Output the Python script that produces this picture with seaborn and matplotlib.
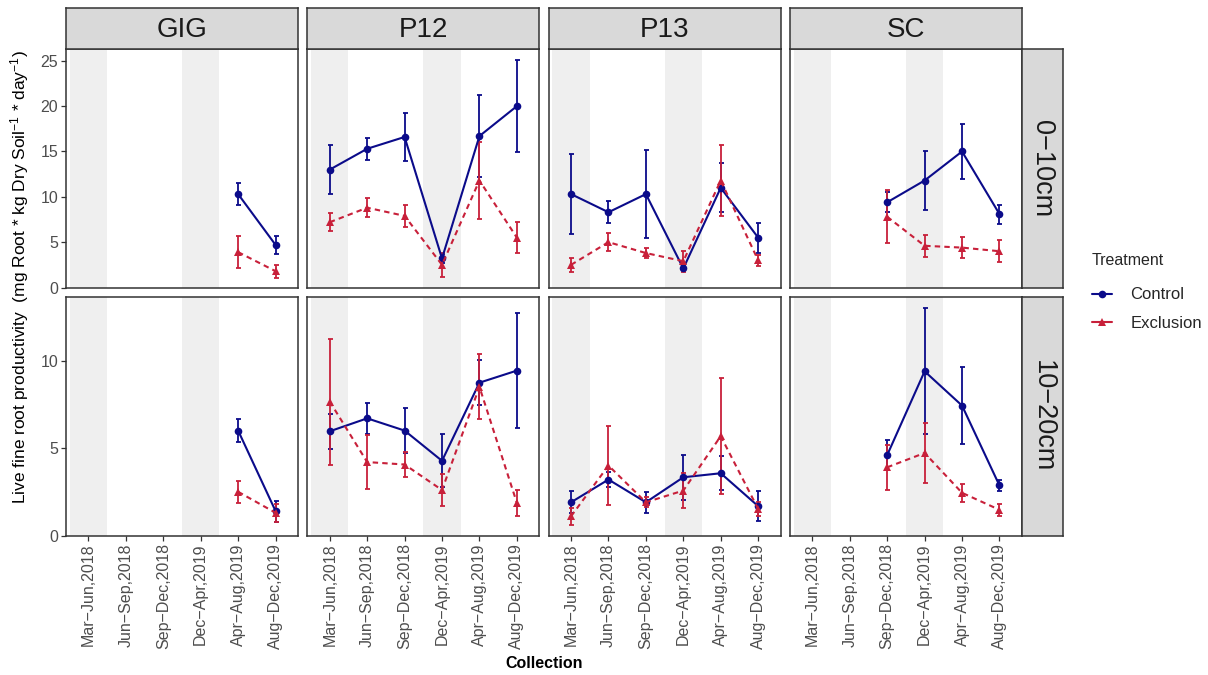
import numpy as np
import pandas as pd
import matplotlib
matplotlib.use("Agg")
import matplotlib.pyplot as plt
from matplotlib.lines import Line2D
import seaborn as sns

# ---- data -------------------------------------------------------------
collections = ["Mar−Jun,2018", "Jun−Sep,2018", "Sep−Dec,2018",
               "Dec−Apr,2019", "Apr−Aug,2019", "Aug−Dec,2019"]
sites = ["GIG", "P12", "P13", "SC"]
depths = ["0−10cm", "10−20cm"]
treatments = ["Control", "Exclusion"]
nan = np.nan

# 0-10 cm: mean and standard error per collection
gig_0_10_control = [nan, nan, nan, nan, 10.3, 4.7]
gig_0_10_control_se = [nan, nan, nan, nan, 1.2, 1.0]
gig_0_10_exclusion = [nan, nan, nan, nan, 3.9, 1.8]
gig_0_10_exclusion_se = [nan, nan, nan, nan, 1.8, 0.7]

p12_0_10_control = [13.0, 15.3, 16.6, 3.2, 16.7, 20.0]
p12_0_10_control_se = [2.7, 1.2, 2.6, 0.5, 4.5, 5.05]
p12_0_10_exclusion = [7.2, 8.8, 7.9, 2.5, 11.8, 5.5]
p12_0_10_exclusion_se = [1.0, 1.05, 1.2, 1.3, 4.2, 1.7]

p13_0_10_control = [10.3, 8.3, 10.3, 2.1, 11.0, 5.5]
p13_0_10_control_se = [4.4, 1.2, 4.85, 0.2, 2.7, 1.65]
p13_0_10_exclusion = [2.5, 5.0, 3.8, 2.9, 11.8, 3.0]
p13_0_10_exclusion_se = [0.8, 1.0, 0.6, 1.15, 3.95, 0.6]

sc_0_10_control = [nan, nan, 9.4, 11.8, 15.0, 8.1]
sc_0_10_control_se = [nan, nan, 1.1, 3.3, 3.0, 1.05]
sc_0_10_exclusion = [nan, nan, 7.8, 4.6, 4.4, 4.0]
sc_0_10_exclusion_se = [nan, nan, 2.9, 1.2, 1.15, 1.2]

# 10-20 cm: mean and standard error per collection
gig_10_20_control = [nan, nan, nan, nan, 6.0, 1.4]
gig_10_20_control_se = [nan, nan, nan, nan, 0.65, 0.6]
gig_10_20_exclusion = [nan, nan, nan, nan, 2.5, 1.3]
gig_10_20_exclusion_se = [nan, nan, nan, nan, 0.63, 0.5]

p12_10_20_control = [5.96, 6.7, 6.0, 4.27, 8.74, 9.43]
p12_10_20_control_se = [1.0, 0.9, 1.28, 1.52, 1.3, 3.3]
p12_10_20_exclusion = [7.66, 4.2, 4.06, 2.6, 8.5, 1.87]
p12_10_20_exclusion_se = [3.6, 1.55, 0.7, 0.92, 1.86, 0.74]

p13_10_20_control = [1.9, 3.2, 1.9, 3.33, 3.56, 1.68]
p13_10_20_control_se = [0.63, 0.43, 0.6, 1.28, 0.97, 0.86]
p13_10_20_exclusion = [1.1, 4.0, 1.9, 2.57, 5.68, 1.52]
p13_10_20_exclusion_se = [0.5, 2.28, 0.29, 1.02, 3.33, 0.38]

sc_10_20_control = [nan, nan, 4.6, 9.39, 7.43, 2.86]
sc_10_20_control_se = [nan, nan, 0.84, 3.6, 2.2, 0.33]
sc_10_20_exclusion = [nan, nan, 3.9, 4.72, 2.44, 1.47]
sc_10_20_exclusion_se = [nan, nan, 1.3, 1.7, 0.52, 0.36]

series = {
    ("GIG", "0−10cm"): (gig_0_10_control, gig_0_10_control_se, gig_0_10_exclusion, gig_0_10_exclusion_se),
    ("P12", "0−10cm"): (p12_0_10_control, p12_0_10_control_se, p12_0_10_exclusion, p12_0_10_exclusion_se),
    ("P13", "0−10cm"): (p13_0_10_control, p13_0_10_control_se, p13_0_10_exclusion, p13_0_10_exclusion_se),
    ("SC", "0−10cm"): (sc_0_10_control, sc_0_10_control_se, sc_0_10_exclusion, sc_0_10_exclusion_se),
    ("GIG", "10−20cm"): (gig_10_20_control, gig_10_20_control_se, gig_10_20_exclusion, gig_10_20_exclusion_se),
    ("P12", "10−20cm"): (p12_10_20_control, p12_10_20_control_se, p12_10_20_exclusion, p12_10_20_exclusion_se),
    ("P13", "10−20cm"): (p13_10_20_control, p13_10_20_control_se, p13_10_20_exclusion, p13_10_20_exclusion_se),
    ("SC", "10−20cm"): (sc_10_20_control, sc_10_20_control_se, sc_10_20_exclusion, sc_10_20_exclusion_se),
}

rows = []
for (site, depth), (cm, cse, em, ese) in series.items():
    for i, lab in enumerate(collections):
        rows.append(dict(Site=site, Depth=depth, Treatment="Control", x=i + 1,
                         Collection=lab, value=cm[i], se=cse[i]))
        rows.append(dict(Site=site, Depth=depth, Treatment="Exclusion", x=i + 1,
                         Collection=lab, value=em[i], se=ese[i]))
df = pd.DataFrame(rows)
df["lo"] = df["value"] - df["se"]
df["hi"] = df["value"] + df["se"]

# ---- style ------------------------------------------------------------
sns.set_theme(style="white")
plt.rcParams["font.family"] = ["Liberation Sans", "DejaVu Sans"]
plt.rcParams["mathtext.fontset"] = "custom"
plt.rcParams["mathtext.rm"] = "Liberation Sans"
plt.rcParams["mathtext.it"] = "Liberation Sans:italic"
plt.rcParams["mathtext.bf"] = "Liberation Sans:bold"

palette = {"Control": "#0B0B8A", "Exclusion": "#C8203A"}
markers = {"Control": "o", "Exclusion": "^"}
dashes = {"Control": "", "Exclusion": (2.6, 2.0)}
shade_cols = [1, 4]
frame_col = "#333333"
strip_fill = "#D9D9D9"

W, H = 1208, 675
fig = plt.figure(figsize=(W / 100, H / 100), dpi=100)


def fig_rect(x0, y0, x1, y1):
    """Pixel box (top-left origin) to figure-fraction rect."""
    return [x0 / W, 1 - y1 / H, (x1 - x0) / W, (y1 - y0) / H]


col_left = 66
col_w = 232
col_gap = 9.3
row_tops = [49, 297]
row_h = 238.5
strip_h = 41

ylims = {}
for depth in depths:
    sub = df[df["Depth"] == depth]
    ylims[depth] = (0, np.nanmax(sub["hi"]) * 1.05)

for r, depth in enumerate(depths):
    for c, site in enumerate(sites):
        x0 = col_left + c * (col_w + col_gap)
        y0 = row_tops[r]
        ax = fig.add_axes(fig_rect(x0, y0, x0 + col_w, y0 + row_h))
        sub = df[(df["Site"] == site) & (df["Depth"] == depth)]

        for xc in shade_cols:
            ax.axvspan(xc - 0.5, xc + 0.5, color="#EFEFEF", lw=0, zorder=0)

        for tr in treatments:
            t = sub[sub["Treatment"] == tr]
            ax.errorbar(t["x"], t["value"], yerr=t["se"], fmt="none",
                        ecolor=palette[tr], elinewidth=1.3, capsize=1.8,
                        capthick=1.3, zorder=2)

        sns.lineplot(data=sub.dropna(subset=["value"]), x="x", y="value",
                     hue="Treatment", style="Treatment", palette=palette,
                     markers=markers, dashes=dashes, markersize=5.5,
                     markeredgewidth=0, linewidth=1.5, legend=False,
                     ax=ax, zorder=3, errorbar=None)

        ax.set_xlim(0.4, 6.6)
        ax.set_ylim(*ylims[depth])
        ax.set_xlabel("")
        ax.set_ylabel("")
        ax.set_xticks(range(1, 7))
        if depth == "0−10cm":
            ax.set_yticks([0, 5, 10, 15, 20, 25])
        else:
            ax.set_yticks([0, 5, 10])
        ax.tick_params(axis="both", direction="out", length=3.5, width=0.9,
                       color=frame_col, labelcolor="#4D4D4D", labelsize=11.5,
                       pad=2, bottom=(r == 1), left=(c == 0))
        if r == 1:
            ax.set_xticklabels(collections, rotation=90)
        else:
            ax.set_xticklabels([])
        if c != 0:
            ax.set_yticklabels([])
        for s in ax.spines.values():
            s.set_color(frame_col)
            s.set_linewidth(1.1)
            s.set_visible(True)

        # column strip
        if r == 0:
            sax = fig.add_axes(fig_rect(x0, y0 - strip_h, x0 + col_w, y0))
            sax.set_facecolor(strip_fill)
            sax.set_xticks([])
            sax.set_yticks([])
            for s in sax.spines.values():
                s.set_color(frame_col)
                s.set_linewidth(1.1)
            sax.text(0.5, 0.47, site, ha="center", va="center", fontsize=20,
                     color="#1A1A1A", transform=sax.transAxes)
        # row strip
        if c == len(sites) - 1:
            rx = x0 + col_w
            rax = fig.add_axes(fig_rect(rx, y0, rx + strip_h, y0 + row_h))
            rax.set_facecolor(strip_fill)
            rax.set_xticks([])
            rax.set_yticks([])
            for s in rax.spines.values():
                s.set_color(frame_col)
                s.set_linewidth(1.1)
            rax.text(0.5, 0.5, depth, ha="center", va="center", fontsize=19.5,
                     color="#1A1A1A", rotation=-90, transform=rax.transAxes)

# axis titles
fig.text(20 / W, 1 - 277 / H,
         r"Live fine root productivity  (mg Root * kg Dry Soil$^{-1}$ * day$^{-1}$)",
         rotation=90, ha="center", va="center", fontsize=12.5, color="black")
fig.text(544 / W, 1 - 663 / H, "Collection", ha="center", va="center",
         fontsize=11.5, fontweight="bold", color="black")

# legend
handles = [Line2D([0], [0], color=palette[t], marker=markers[t], markersize=5.5,
                  markeredgewidth=0, lw=1.5, linestyle="-")
           for t in treatments]
leg = fig.legend(handles, treatments, title="Treatment", loc="upper left",
                 bbox_to_anchor=(1077 / W, 1 - 238 / H), frameon=False,
                 fontsize=12, title_fontsize=11.5, handlelength=1.2,
                 handletextpad=1.1, labelspacing=0.8, alignment="left")
leg._legend_box.sep = 14

fig.savefig("out.png", dpi=100)
